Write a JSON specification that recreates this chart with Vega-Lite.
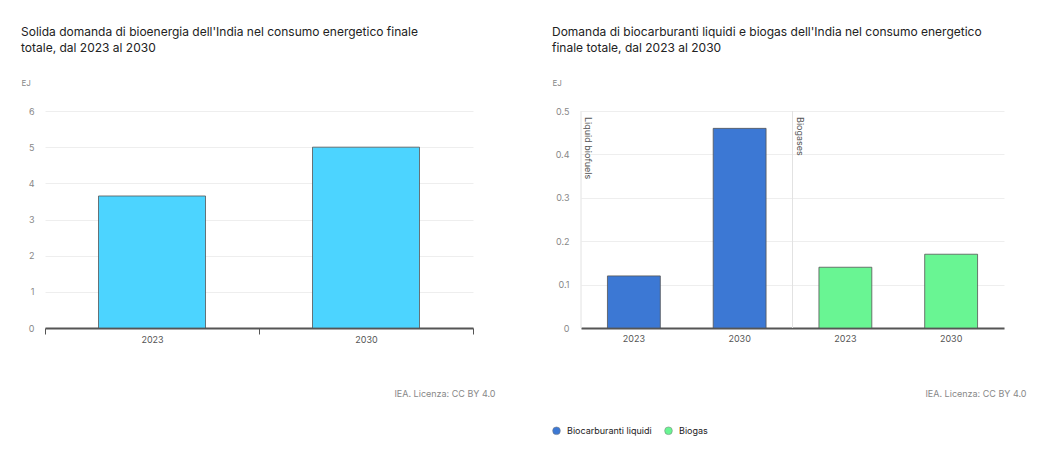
{
  "$schema": "https://vega.github.io/schema/vega-lite/v6.json",
  "padding": {"left": 21, "top": 26, "right": 5, "bottom": 5},
  "background": "white",
  "config": {
    "font": "Inter",
    "view": {"stroke": null},
    "title": {"font": "Inter", "fontSize": 12, "fontWeight": "normal", "color": "#222222", "anchor": "start", "lineHeight": 16},
    "axis": {"labelFont": "Inter", "titleFont": "Inter"},
    "legend": {"labelFont": "Inter"}
  },
  "spacing": 57,
  "hconcat": [
    {
      "width": 428,
      "height": 217,
      "title": {"text": ["Solida domanda di bioenergia dell'India nel consumo energetico finale", "totale, dal 2023 al 2030"], "offset": 24},
      "data": {"values": [
        {"year": "2023", "value": 3.65},
        {"year": "2030", "value": 5.0}
      ]},
      "mark": {"type": "bar", "width": {"band": 0.5}, "color": "#4CD4FF", "stroke": "#555555", "strokeWidth": 1, "strokeOpacity": 0.8},
      "encoding": {
        "x": {
          "field": "year", "type": "nominal",
          "scale": {"paddingInner": 0, "paddingOuter": 0},
          "axis": {
            "title": "IEA. Licenza: CC BY 4.0", "titleFontSize": 9, "titleColor": "#888888", "titleFontWeight": "normal",
            "titleAnchor": "end", "titleAlign": "right", "titleX": 450, "titleY": 65, "titleBaseline": "middle",
            "labelAngle": 0, "labelFontSize": 9, "labelColor": "#555555", "labelPadding": 1,
            "domainColor": "#555555", "domainWidth": 2, "tickColor": "#555555", "tickWidth": 1, "tickSize": 6,
            "tickBand": "extent", "grid": false
          }
        },
        "y": {
          "field": "value", "type": "quantitative",
          "scale": {"domain": [0, 6]},
          "axis": {
            "values": [0, 1, 2, 3, 4, 5, 6], "title": "EJ", "titleAngle": 0, "titleAlign": "left", "titleBaseline": "middle",
            "titleX": -24, "titleY": -28, "titleFontSize": 8, "titleColor": "#888888", "titleFontWeight": "normal",
            "labelFontSize": 9, "labelColor": "#888888", "labelPadding": 11,
            "domain": false, "ticks": false, "gridColor": "#EEEEEE", "gridWidth": 1
          }
        }
      }
    },
    {
      "width": 423,
      "height": 217,
      "title": {"text": ["Domanda di biocarburanti liquidi e biogas dell'India nel consumo energetico", "finale totale, dal 2023 al 2030"], "offset": 24},
      "data": {"values": [
        {"key": "Liquid biofuels|2023", "group": "Liquid biofuels", "year": "2023", "series": "Biocarburanti liquidi", "value": 0.12, "first": true},
        {"key": "Liquid biofuels|2030", "group": "Liquid biofuels", "year": "2030", "series": "Biocarburanti liquidi", "value": 0.46, "first": false},
        {"key": "Biogases|2023", "group": "Biogases", "year": "2023", "series": "Biogas", "value": 0.14, "first": true},
        {"key": "Biogases|2030", "group": "Biogases", "year": "2030", "series": "Biogas", "value": 0.17, "first": false}
      ]},
      "layer": [
        {
          "mark": {"type": "bar", "width": {"band": 0.5}, "stroke": "#555555", "strokeWidth": 1, "strokeOpacity": 0.8},
          "encoding": {
            "x": {
              "field": "key", "type": "nominal",
              "scale": {"domain": ["Liquid biofuels|2023", "Liquid biofuels|2030", "Biogases|2023", "Biogases|2030"], "paddingInner": 0, "paddingOuter": 0},
              "axis": {
                "title": "IEA. Licenza: CC BY 4.0", "titleFontSize": 9, "titleColor": "#888888", "titleFontWeight": "normal",
                "titleAnchor": "end", "titleAlign": "right", "titleX": 445, "titleY": 65, "titleBaseline": "middle",
                "labelExpr": "split(datum.value, '|')[1]", "bandPosition": 0.5,
                "labelAngle": 0, "labelFontSize": 9, "labelColor": "#555555", "labelPadding": 6,
                "domainColor": "#555555", "domainWidth": 2, "ticks": false, "grid": false
              }
            },
            "y": {
              "field": "value", "type": "quantitative",
              "scale": {"domain": [0, 0.5]},
              "axis": {
                "values": [0, 0.1, 0.2, 0.3, 0.4, 0.5], "format": ".1~f", "title": "EJ", "titleAngle": 0, "titleAlign": "left", "titleBaseline": "middle",
                "titleX": -29, "titleY": -28, "titleFontSize": 8, "titleColor": "#888888", "titleFontWeight": "normal",
                "labelFontSize": 9, "labelColor": "#888888", "labelPadding": 12,
                "domain": false, "ticks": false, "gridColor": "#EEEEEE", "gridWidth": 1
              }
            },
            "color": {
              "field": "series", "type": "nominal",
              "scale": {"domain": ["Biocarburanti liquidi", "Biogas"], "range": ["#3C78D4", "#69F593"]},
              "legend": {
                "title": null, "orient": "none", "direction": "horizontal", "legendX": 507, "legendY": 315,
                "symbolType": "circle", "symbolSize": 60, "symbolStrokeWidth": 0.5, "symbolStrokeColor": "#777777",
                "labelFontSize": 9, "labelColor": "#222222", "columnPadding": 11, "labelOffset": 6
              }
            }
          }
        },
        {
          "transform": [{"filter": "datum.first"}],
          "mark": {"type": "rule", "color": "#E2E2E2", "strokeWidth": 1},
          "encoding": {
            "x": {"field": "key", "type": "nominal", "bandPosition": 0}
          }
        },
        {
          "transform": [{"filter": "datum.first"}],
          "mark": {"type": "text", "angle": 90, "align": "left", "baseline": "bottom", "dx": 6, "dy": -2, "fontSize": 9, "color": "#555555"},
          "encoding": {
            "x": {"field": "key", "type": "nominal", "bandPosition": 0},
            "y": {"datum": 0.5, "type": "quantitative"},
            "text": {"field": "group"}
          }
        }
      ]
    }
  ]
}
